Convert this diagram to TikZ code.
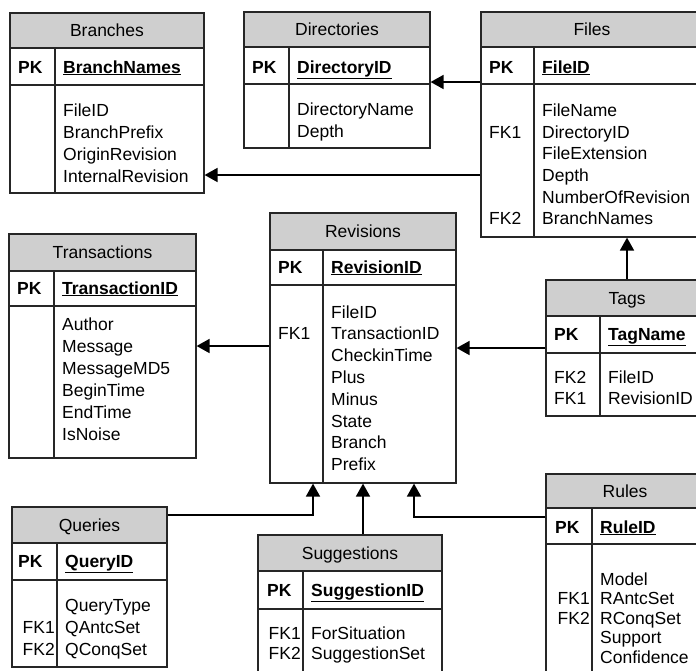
\documentclass[tikz,border=0pt]{standalone}
\usepackage{fontspec}
\setmainfont{Liberation Sans}
\usetikzlibrary{arrows.meta,fit}

\tikzset{
  x=1pt, y=-1pt,
  frame/.style={draw=black!85, line width=1.2pt},
  headfill/.style={fill=black!19},
  boxnode/.style={frame, inner sep=0pt, rectangle},
  txt/.style={inner sep=0pt, font=\fontsize{17.5}{21}\selectfont},
  field/.style={txt, anchor=base west},
  keyr/.style={txt, anchor=base east},
  title/.style={txt, anchor=base},
  pkfield/.style={field, font=\fontsize{17.5}{21}\selectfont\bfseries},
  fk/.style={draw=black, line width=1.8pt, -{Triangle[length=13pt,width=14pt]}}
}

% #1 name, #2 x0, #3 x1, #4 divider x, #5 top, #6 header bottom, #7 key-row bottom, #8 bottom, #9 title
\newcommand\ertable[9]{%
  \fill[headfill] (#2,#5) rectangle (#3,#6);
  \coordinate (#1-nw) at (#2,#5);
  \coordinate (#1-se) at (#3,#8);
  \node[boxnode, fit=(#1-nw)(#1-se)] (#1) {};
  \draw[frame] (#2,#6) -- (#3,#6) (#2,#7) -- (#3,#7) (#4,#6) -- (#4,#8);
  \node[title] (#1-title) at ({(#2+#3)/2},{(#5+#6)/2+6}) {#9};
}

\begin{document}
\begin{tikzpicture}
\useasboundingbox (0,0) rectangle (696,670);
\fill[white] (0,0) rectangle (696,670);

% ---------- Branches ----------
\ertable{branches}{10}{204}{55}{13}{48}{85}{193}{Branches}
\node[pkfield] (branches-pk) at (18,73) {PK};
\node[pkfield] (branches-key) at (63,73) {\underline{BranchNames}};
\node[field] (branches-f1) at (63,116) {FileID};
\node[field] (branches-f2) at (63,138) {BranchPrefix};
\node[field] (branches-f3) at (63,160) {OriginRevision};
\node[field] (branches-f4) at (63,182) {InternalRevision};

% ---------- Directories ----------
\ertable{dirs}{244}{430}{289}{12}{47}{84}{148}{Directories}
\node[pkfield] (dirs-pk) at (252,73) {PK};
\node[pkfield] (dirs-key) at (297,73) {\underline{DirectoryID}};
\node[field] (dirs-f1) at (297,115) {DirectoryName};
\node[field] (dirs-f2) at (297,137) {Depth};

% ---------- Files ----------
\ertable{files}{481}{703}{534}{12}{47}{84}{237}{Files}
\node[pkfield] (files-pk) at (489,73) {PK};
\node[pkfield] (files-key) at (542,73) {\underline{FileID}};
\node[field] (files-f1) at (542,116) {FileName};
\node[field] (files-f2) at (542,138) {DirectoryID};
\node[field] (files-f3) at (542,159) {FileExtension};
\node[field] (files-f4) at (542,181) {Depth};
\node[field] (files-f5) at (542,203) {NumberOfRevision};
\node[field] (files-f6) at (542,224) {BranchNames};
\node[field] (files-fk1) at (489,138) {FK1};
\node[field] (files-fk2) at (489,224) {FK2};

% ---------- Transactions ----------
\ertable{trans}{9}{196}{54}{234}{271}{306}{458}{Transactions}
\node[pkfield] (trans-pk) at (17,294) {PK};
\node[pkfield] (trans-key) at (62,294) {\underline{TransactionID}};
\node[field] (trans-f1) at (62,330) {Author};
\node[field] (trans-f2) at (62,352) {Message};
\node[field] (trans-f3) at (62,374) {MessageMD5};
\node[field] (trans-f4) at (62,396) {BeginTime};
\node[field] (trans-f5) at (62,418) {EndTime};
\node[field] (trans-f6) at (62,440) {IsNoise};

% ---------- Revisions ----------
\ertable{revs}{270}{456}{323}{213}{250}{285}{483}{Revisions}
\node[pkfield] (revs-pk) at (278,273) {PK};
\node[pkfield] (revs-key) at (331,273) {\underline{RevisionID}};
\node[field] (revs-f1) at (331,318) {FileID};
\node[field] (revs-f2) at (331,339) {TransactionID};
\node[field] (revs-f3) at (331,361) {CheckinTime};
\node[field] (revs-f4) at (331,383) {Plus};
\node[field] (revs-f5) at (331,405) {Minus};
\node[field] (revs-f6) at (331,427) {State};
\node[field] (revs-f7) at (331,448) {Branch};
\node[field] (revs-f8) at (331,470) {Prefix};
\node[field] (revs-fk1) at (278,339) {FK1};

% ---------- Tags ----------
\ertable{tags}{546}{708}{600}{280}{316}{353}{416}{Tags}
\node[pkfield] (tags-pk) at (554,340) {PK};
\node[pkfield] (tags-key) at (608,340) {\underline{TagName}};
\node[field] (tags-f1) at (608,383) {FileID};
\node[field] (tags-f2) at (608,404) {RevisionID};
\node[field] (tags-fk2) at (554,383) {FK2};
\node[field] (tags-fk1) at (554,404) {FK1};

% ---------- Queries ----------
\ertable{queries}{12}{167}{57}{507}{543}{580}{667}{Queries}
\node[pkfield] (queries-pk) at (18,567) {PK};
\node[pkfield] (queries-key) at (65,567) {\underline{QueryID}};
\node[field] (queries-f1) at (65,611) {QueryType};
\node[field] (queries-f2) at (65,633) {QAntcSet};
\node[field] (queries-f3) at (65,655) {QConqSet};
\node[keyr] (queries-fk1) at (55,633) {FK1};
\node[keyr] (queries-fk2) at (55,655) {FK2};

% ---------- Suggestions ----------
\ertable{sugg}{258}{442}{303}{535}{571}{609}{690}{Suggestions}
\node[pkfield] (sugg-pk) at (267,596) {PK};
\node[pkfield] (sugg-key) at (311,596) {\underline{SuggestionID}};
\node[field] (sugg-f1) at (311,639) {ForSituation};
\node[field] (sugg-f2) at (311,659) {SuggestionSet};
\node[keyr] (sugg-fk1) at (301,639) {FK1};
\node[keyr] (sugg-fk2) at (301,659) {FK2};

% ---------- Rules ----------
\ertable{rules}{546}{704}{592}{474}{508}{544}{690}{Rules}
\node[pkfield] (rules-pk) at (555,533) {PK};
\node[pkfield] (rules-key) at (600,533) {\underline{RuleID}};
\node[field] (rules-f1) at (600,585) {Model};
\node[field] (rules-f2) at (600,604.5) {RAntcSet};
\node[field] (rules-f3) at (600,624) {RConqSet};
\node[field] (rules-f4) at (600,643.5) {Support};
\node[field] (rules-f5) at (600,663) {Confidence};
\node[keyr] (rules-fk1) at (590,604.5) {FK1};
\node[keyr] (rules-fk2) at (590,624) {FK2};

% ---------- relationships ----------
\coordinate (qbend) at (313,515);
\coordinate (rbend) at (414,517);
\draw[fk] (files.west |- 0,82) -- (dirs.east |- 0,82);
\draw[fk] (files.west |- 0,175) -- (branches.east |- 0,175);
\draw[fk] (revs.west |- 0,346) -- (trans.east |- 0,346);
\draw[fk] (tags.west |- 0,348) -- (revs.east |- 0,348);
\draw[fk] (tags.north -| 627,0) -- (files.south -| 627,0);
\draw[fk] (queries.east |- qbend) -- (qbend) -- (revs.south -| qbend);
\draw[fk] (sugg.north -| 363,0) -- (revs.south -| 363,0);
\draw[fk] (rules.west |- rbend) -- (rbend) -- (revs.south -| rbend);
\end{tikzpicture}
\end{document}
